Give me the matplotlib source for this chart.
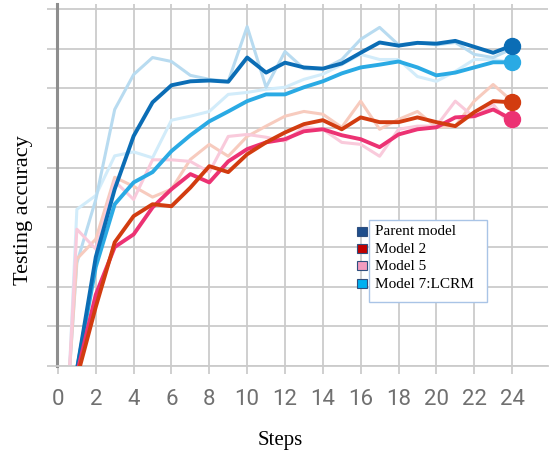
import numpy as np
import matplotlib
matplotlib.use("Agg")
import matplotlib.pyplot as plt
from matplotlib.patches import Rectangle

# steps for smoothed curves and for the faded raw curves
steps = list(range(1, 25))
raw_steps = [0.6] + steps

series_names = ["Parent model", "Model 2", "Model 5", "Model 7:LCRM"]

# smoothed testing accuracy
parent = [-0.01, 0.275, 0.446, 0.58, 0.665, 0.708, 0.718, 0.72, 0.717, 0.778, 0.74, 0.765,
          0.753, 0.75, 0.763, 0.79, 0.816, 0.808, 0.815, 0.813, 0.82, 0.805, 0.79, 0.808]
model2 = [-0.03, 0.149, 0.312, 0.378, 0.408, 0.403, 0.45, 0.504, 0.489, 0.534, 0.564, 0.589,
          0.61, 0.62, 0.597, 0.627, 0.615, 0.615, 0.627, 0.615, 0.605, 0.64, 0.668, 0.665]
model5 = [-0.02, 0.18, 0.30, 0.332, 0.40, 0.446, 0.484, 0.463, 0.516, 0.547, 0.564, 0.572,
          0.592, 0.597, 0.582, 0.572, 0.552, 0.584, 0.597, 0.602, 0.627, 0.63, 0.647, 0.622]
model7 = [-0.01, 0.25, 0.408, 0.463, 0.489, 0.542, 0.582, 0.617, 0.642, 0.668, 0.685, 0.685,
          0.703, 0.718, 0.738, 0.753, 0.76, 0.768, 0.753, 0.733, 0.74, 0.753, 0.766, 0.766]

# raw (unsmoothed) testing accuracy
parent_raw = [-0.02, 0.26, 0.42, 0.647, 0.735, 0.778, 0.768, 0.733, 0.723, 0.718, 0.856, 0.703, 0.793,
              0.75, 0.748, 0.773, 0.824, 0.854, 0.81, 0.816, 0.81, 0.816, 0.786, 0.778, 0.8]
model2_raw = [-0.02, 0.27, 0.32, 0.476, 0.453, 0.426, 0.446, 0.521, 0.559, 0.529, 0.579, 0.605, 0.63,
              0.642, 0.635, 0.602, 0.668, 0.597, 0.622, 0.642, 0.602, 0.605, 0.668, 0.71, 0.668]
model5_raw = [-0.02, 0.345, 0.295, 0.466, 0.42, 0.52, 0.52, 0.516, 0.489, 0.579, 0.584, 0.577, 0.567,
              0.602, 0.597, 0.564, 0.559, 0.529, 0.597, 0.605, 0.605, 0.668, 0.627, 0.66, 0.602]
model7_raw = [-0.02, 0.395, 0.43, 0.53, 0.54, 0.525, 0.62, 0.63, 0.642, 0.685, 0.69, 0.698, 0.703,
              0.723, 0.736, 0.76, 0.786, 0.773, 0.773, 0.73, 0.718, 0.743, 0.773, 0.773, 0.766]

line_colors = ["#0b6db5", "#d23c10", "#ec3273", "#2aaae4"]
raw_colors = ["#b8dbf0", "#f7cbbe", "#f9cadb", "#d2ecfa"]
legend_colors = ["#1f4e8c", "#c00000", "#f29bbf", "#00b0f0"]

fig = plt.figure(figsize=(5.5, 4.56), dpi=100)
ax = fig.add_axes([57 / 550, 89 / 456, 491 / 550, 362 / 456])

smooth = [parent, model2, model5, model7]
raw = [parent_raw, model2_raw, model5_raw, model7_raw]

# faded raw lines first
for i in [3, 0, 1, 2]:
    ax.plot(raw_steps, raw[i], color=raw_colors[i], lw=2.2, zorder=2)

for i in [3, 0, 2, 1]:
    ax.plot(steps, smooth[i], color=line_colors[i], lw=2.8, zorder=3)
    ax.plot(steps[-1], smooth[i][-1], "o", color=line_colors[i], ms=11.5, zorder=4)

ax.set_xlim(-0.05, 25.9)
ax.set_ylim(0, 0.913)
ax.set_xticks(range(0, 25, 2))
ax.set_yticks(np.arange(0, 0.91, 0.1))
ax.set_yticklabels([])
ax.grid(True, color="#cbcbcb", lw=1.3, zorder=1)
ax.set_axisbelow(True)

for s in ["top", "right"]:
    ax.spines[s].set_visible(False)
ax.spines["left"].set_color("#8e8e8e")
ax.spines["left"].set_linewidth(2.2)
ax.spines["bottom"].set_color("#cbcbcb")
ax.spines["bottom"].set_linewidth(1.3)
ax.tick_params(axis="y", length=7, width=1.3, color="#cbcbcb")
ax.tick_params(axis="x", length=6, width=1.3, color="#cbcbcb", pad=10,
               labelsize=16, labelcolor="#707070")
for lab in ax.get_xticklabels():
    lab.set_fontfamily("Roboto")

fig.text(0.51, 0.035, "Steps", family="Liberation Serif", fontsize=15, ha="center", va="center")
fig.text(0.042, 0.54, "Testing accuracy", family="Liberation Serif", fontsize=16,
         rotation=90, ha="center", va="center")

# legend drawn by hand: squares sit outside the left edge of the box
fig.patches.append(Rectangle((369 / 550, 1 - 303 / 456), 118 / 550, 82 / 456,
                             transform=fig.transFigure, facecolor="white",
                             edgecolor="#a9c4e6", lw=1.0, zorder=5))
for k, (name, col) in enumerate(zip(series_names, legend_colors)):
    yc = 232 + k * 17.4
    fig.patches.append(Rectangle((357 / 550, 1 - (yc + 4.5) / 456), 10 / 550, 9 / 456,
                                 transform=fig.transFigure, facecolor=col,
                                 edgecolor="#2f4f7f", lw=0.8, zorder=6))
    fig.text(375 / 550, 1 - yc / 456, name, family="Liberation Serif", fontsize=11,
             va="center", ha="left", zorder=7)

fig.savefig("out.png", dpi=100)
